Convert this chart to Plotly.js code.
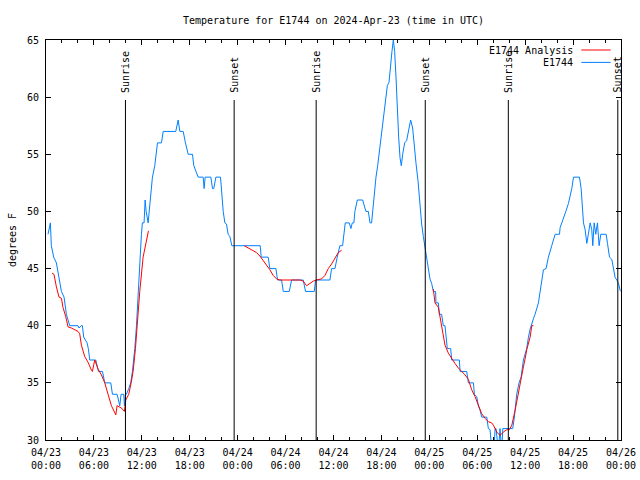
<!DOCTYPE html>
<html>
<head>
<meta charset="utf-8">
<script src="https://cdn.plot.ly/plotly-3.0.1.min.js"></script>
<style>html,body{margin:0;padding:0;background:#fff;}#chart{width:640px;height:480px;}</style>
</head>
<body>
<div id="chart"></div>
<script>
// Hours since 2024-04-23 00:00 UTC
var obsHours = [0.25,0.46,0.55,0.67,0.96,1.30,1.63,1.93,2.26,2.55,2.97,4.01,4.14,4.40,4.56,4.72,5.14,5.30,5.48,6.23,6.57,7.07,7.36,8.11,8.32,8.90,9.24,9.40,9.74,9.82,9.95,10.07,10.36,10.61,10.82,10.99,11.12,11.33,11.53,11.74,11.95,12.07,12.28,12.41,12.54,12.79,12.91,13.08,13.33,13.62,13.75,13.96,14.46,14.67,16.25,16.55,16.76,17.18,17.46,17.80,18.34,18.51,19.05,19.68,19.80,19.93,20.64,20.85,21.01,21.27,21.85,22.02,22.19,22.40,22.60,22.81,23.02,23.27,26.82,26.95,27.82,28.03,28.79,28.99,29.50,29.71,30.46,30.75,32.21,32.50,33.59,33.76,35.55,35.76,36.18,36.47,36.80,37.14,37.31,37.47,37.97,38.18,38.35,38.55,38.68,38.98,39.65,39.90,40.06,40.36,40.57,40.77,40.90,41.00,41.19,41.32,41.53,41.70,41.82,42.03,42.24,42.32,42.49,42.74,42.95,43.15,43.32,43.49,43.66,43.83,44.00,44.16,44.33,44.49,44.66,44.91,45.16,45.41,45.66,45.91,46.08,46.33,46.58,46.83,47.04,47.25,47.50,47.67,47.87,48.08,48.29,48.50,48.79,48.83,49.13,49.25,49.54,49.75,49.96,50.09,50.25,50.67,50.80,51.76,51.85,52.68,52.89,53.52,53.64,53.93,54.14,54.35,54.56,55.19,55.39,55.60,55.85,56.10,56.23,56.35,56.52,56.65,56.85,57.06,57.20,57.78,58.44,58.65,58.94,59.23,59.49,59.78,60.19,60.41,60.62,61.03,61.24,61.66,61.87,62.08,62.29,62.62,62.91,63.33,63.75,64.30,64.38,64.59,64.88,65.09,65.42,65.84,66.05,66.80,67.01,67.30,67.51,67.72,67.93,68.14,68.34,68.47,68.64,68.84,69.05,69.26,69.47,70.14,70.31,70.56,70.85,71.06,71.27,71.48,71.69,71.89,72.0];
var obsTemps = [48,49,49,47,46,45.5,44,43,42.5,41,40,40,39.8,40,40,39,38.5,38,37,37,36,36,35,35,34,34,33,34,34,33,34,34,34.5,35,36,37,38,40,43,45,48,49,49,51,50,49,50,51,53,54,55,56,56,57,57,58,57,57,56,55,55,54,53,53,52,53,53,52,52,53,53,51.5,50,49,48.9,48,47.8,47,47,46,46,45,45,44,44,43,43,44,44,43,43,44,44,45,45,46,47,47,48,49,49,48.5,49,49,50,51,51,50.5,50,50,49,49,50,51,52,53,54,55,56,57,58,59,60,61,61.3,63,64,65,64,61.7,58.5,56.5,54.7,54,55,56,56.2,57.1,58,57.3,55.8,54.2,52.7,50.5,48.9,47.8,46.7,45.7,45,44.1,43.7,43,43,42,42,41,41,40,40,39,38,38,37,37,36,36,35,35,34,33.8,33,32.6,32,32,31,30.9,29,29,31,31,29.5,29,31,29,31,31,31,32,34,35,35.5,37,38,39,39.7,40.6,41,42,42.9,44,44.9,45,46,47,48,48,48.6,49,49.5,50,50.7,52,53,53,52,49,48.4,47.2,48.1,49,48.4,47,49,48,49,47,48,48,47.2,46,45.8,45,44.2,44,43.7,43.1,43];

var anaHours = [0.76,1.00,1.30,1.63,1.93,2.13,2.47,2.76,3.18,4.01,4.22,4.43,4.85,5.27,5.69,5.81,6.10,6.52,6.94,7.36,7.77,8.19,8.74,8.90,9.44,9.82,9.99,10.36,10.66,10.91,11.20,11.41,11.74,12.16,12.83,
  13.0,
  24.82,25.32,25.95,26.36,26.78,27.20,27.61,28.03,28.45,28.87,29.28,31.79,32.21,32.63,33.05,33.46,33.88,34.51,34.93,35.35,35.76,36.18,36.60,37.01,
  37.2,
  48.50,48.71,49.13,49.33,49.67,49.96,50.38,50.80,51.21,51.63,52.05,52.47,52.89,53.30,53.72,54.14,54.56,54.98,55.39,55.81,56.02,56.44,56.85,57.27,57.69,58.03,58.33,58.74,59.04,59.37,59.78,59.99,60.20,60.62,60.83,61.04];
var anaTemps = [44.6,44.5,43.4,42.5,42.4,41.6,40.8,39.9,39.8,39.5,39.3,38.3,37.3,36.8,36.1,36.0,37.0,36.2,35.7,35.0,34.0,33.0,32.2,33.0,32.8,32.5,33.5,34.0,35.0,36.0,38.0,40.0,43.0,46.0,48.3,
  null,
  47.0,46.8,46.6,46.4,46.1,45.7,45.4,44.9,44.4,44.1,44.0,44.0,43.9,43.5,43.7,43.9,44.0,44.1,44.4,45.0,45.4,45.9,46.4,46.6,
  null,
  43.2,42.0,41.6,40.8,39.3,38.3,37.6,37.1,36.7,36.3,36.0,35.7,35.3,34.4,33.8,33.1,32.3,31.9,31.6,31.5,31.3,30.7,30.4,30.7,30.9,30.9,31.3,32.6,33.8,34.9,36.4,37.1,37.9,39.0,40.0,40.0];

var eventHours = [9.95,23.56,33.83,47.49,57.89,71.60];
var eventLabels = ['Sunrise','Sunset','Sunrise','Sunset','Sunrise','Sunset'];

var seriesNames = ['E1744 Analysis','E1744'];
var seriesColors = ['#ff0000','#0080ff'];

var base = Date.UTC(2024,3,23,0,0,0);
function toDate(h){
  var d = new Date(base + Math.round(h*3600000));
  function p(n){return (n<10?'0':'')+n;}
  return d.getUTCFullYear()+'-'+p(d.getUTCMonth()+1)+'-'+p(d.getUTCDate())+' '+p(d.getUTCHours())+':'+p(d.getUTCMinutes())+':'+p(d.getUTCSeconds());
}

var FONT = 'DejaVu Sans Mono, Liberation Mono, monospace';
var traces = [
  {x: obsHours.map(toDate), y: obsTemps, type:'scatter', mode:'lines', name: seriesNames[1],
   line:{color: seriesColors[1], width:1}, hoverinfo:'skip'},
  {x: anaHours.map(toDate), y: anaTemps, type:'scatter', mode:'lines', name: seriesNames[0],
   line:{color: seriesColors[0], width:1}, connectgaps:false, hoverinfo:'skip'}
];

var shapes = [];
var annotations = [];
eventHours.forEach(function(h,i){
  shapes.push({type:'line', xref:'x', yref:'paper', x0:toDate(h), x1:toDate(h), y0:0, y1:0.85,
    line:{color:'#000', width:1}});
  annotations.push({xref:'x', yref:'paper', x:toDate(h), y:0.866, text:eventLabels[i], textangle:-90,
    showarrow:false, xanchor:'center', yanchor:'bottom', borderpad:0, font:{family:FONT, size:10, color:'#000'}});
});
// manual legend (text on the left, line sample on the right)
var legY = [0.975, 0.944];
seriesNames.forEach(function(n,i){
  annotations.push({xref:'paper', yref:'paper', x:0.918, y:legY[i], text:n, showarrow:false,
    xanchor:'right', yanchor:'middle', borderpad:0, font:{family:FONT, size:10, color:'#000'}});
  shapes.push({type:'line', xref:'paper', yref:'paper', x0:0.931, x1:0.982, y0:legY[i], y1:legY[i],
    line:{color:seriesColors[i], width:1}});
});

var layout = {
  width:640, height:480,
  margin:{l:46, r:19, t:40, b:40},
  paper_bgcolor:'#fff', plot_bgcolor:'#fff',
  showlegend:false,
  title:{text:'Temperature for E1744 on 2024-Apr-23 (time in UTC)', x:0.5, xref:'paper', y:0.958, yanchor:'middle',
    font:{family:FONT, size:10, color:'#000'}},
  xaxis:{type:'date', range:[toDate(0), toDate(72)], showline:true, linecolor:'#000', linewidth:1, mirror:'ticks',
    ticks:'inside', ticklen:5, tickcolor:'#000', tickwidth:1, dtick:6*3600000, tick0:toDate(0),
    tickformat:'%m/%d<br>%H:%M', showgrid:false, zeroline:false, ticklabelstandoff:3,
    tickfont:{family:FONT, size:10, color:'#000'},
    minor:{dtick:2*3600000, ticks:'inside', ticklen:3, tickcolor:'#000', tickwidth:1, showgrid:false}},
  yaxis:{range:[30,65], dtick:5, showline:true, linecolor:'#000', linewidth:1, mirror:'ticks',
    ticks:'inside', ticklen:5, tickcolor:'#000', showgrid:false, zeroline:false, ticklabelstandoff:4,
    tickfont:{family:FONT, size:10, color:'#000'},
    title:{text:'degrees F', font:{family:FONT, size:10, color:'#000'}, standoff:8}},
  shapes:shapes,
  annotations:annotations
};
Plotly.newPlot('chart', traces, layout, {staticPlot:true, displayModeBar:false});
</script>
</body>
</html>
